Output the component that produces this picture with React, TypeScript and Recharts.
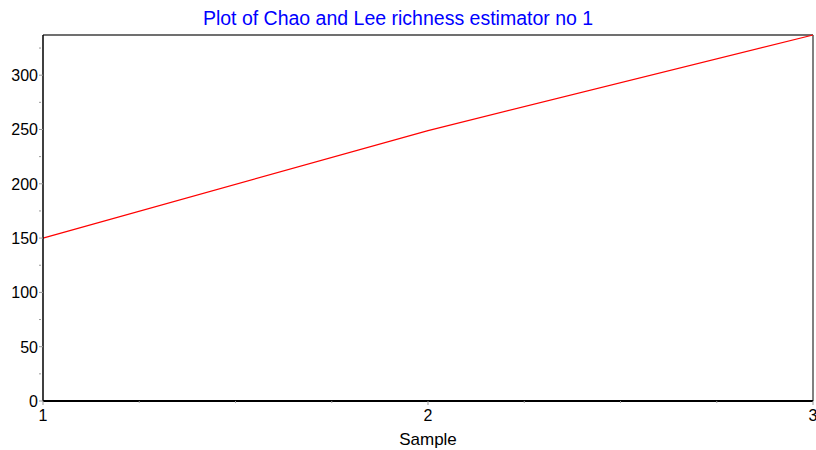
import { LineChart, Line, XAxis, YAxis, ReferenceLine } from 'recharts'

const samples = [1, 2, 3]
const richness = [150, 249, 337]
const xTicks = [1, 1.25, 1.5, 1.75, 2, 2.25, 2.5, 2.75, 3]
const yTicks = [0, 25, 50, 75, 100, 125, 150, 175, 200, 225, 250, 275, 300, 325]

const data = samples.map((s, i) => ({ sample: s, value: richness[i] }))

const FONT = '"Liberation Sans", Arial, sans-serif'

const xTick = (props: any) => {
  const { x, y, payload } = props
  const major = Number.isInteger(payload.value)
  return (
    <g>
      <line x1={x} x2={x} y1={y - 8} y2={y - (major ? 4 : 6)} stroke="#999" />
      {major && (
        <text x={x} y={y + 12} textAnchor="middle" fontSize={16} fill="#000" fontFamily={FONT}>
          {payload.value}
        </text>
      )}
    </g>
  )
}

const yTick = (props: any) => {
  const { x, y, payload } = props
  const major = payload.value % 50 === 0
  return (
    <g>
      <line x1={x + 4} x2={x + (major ? 8 : 6)} y1={y} y2={y} stroke="#999" />
      {major && (
        <text x={x + 3} y={y + 6} textAnchor="end" fontSize={16} fill="#000" fontFamily={FONT}>
          {payload.value}
        </text>
      )}
    </g>
  )
}

export default function App() {
  return (
    <div style={{ position: 'absolute', left: 0, top: 0, width: 816, height: 450, background: '#fff' }}>
      <LineChart width={816} height={450} data={data} margin={{ top: 35, right: 3, bottom: 0, left: 0 }}>
        <text x={398} y={25} textAnchor="middle" fontSize={19.5} fill="#0000ff" fontFamily={FONT}>
          Plot of Chao and Lee richness estimator no 1
        </text>
        <XAxis
          dataKey="sample"
          type="number"
          domain={[1, 3]}
          ticks={xTicks}
          interval={0}
          height={49}
          tickLine={false}
          tick={xTick}
          axisLine={{ stroke: '#000', strokeWidth: 2 }}
          label={{ value: 'Sample', position: 'insideBottom', offset: 5, fontSize: 17, fill: '#000', fontFamily: FONT }}
        />
        <YAxis
          type="number"
          domain={[0, 337]}
          ticks={yTicks}
          interval={0}
          width={43}
          tickLine={false}
          tick={yTick}
          axisLine={{ stroke: '#000', strokeWidth: 1.5 }}
        />
        <ReferenceLine y={337} stroke="#707070" strokeWidth={2} />
        <ReferenceLine x={3} stroke="#808080" strokeWidth={2} />
        <Line
          dataKey="value"
          stroke="#ff0000"
          strokeWidth={1.2}
          dot={false}
          isAnimationActive={false}
        />
      </LineChart>
    </div>
  )
}
